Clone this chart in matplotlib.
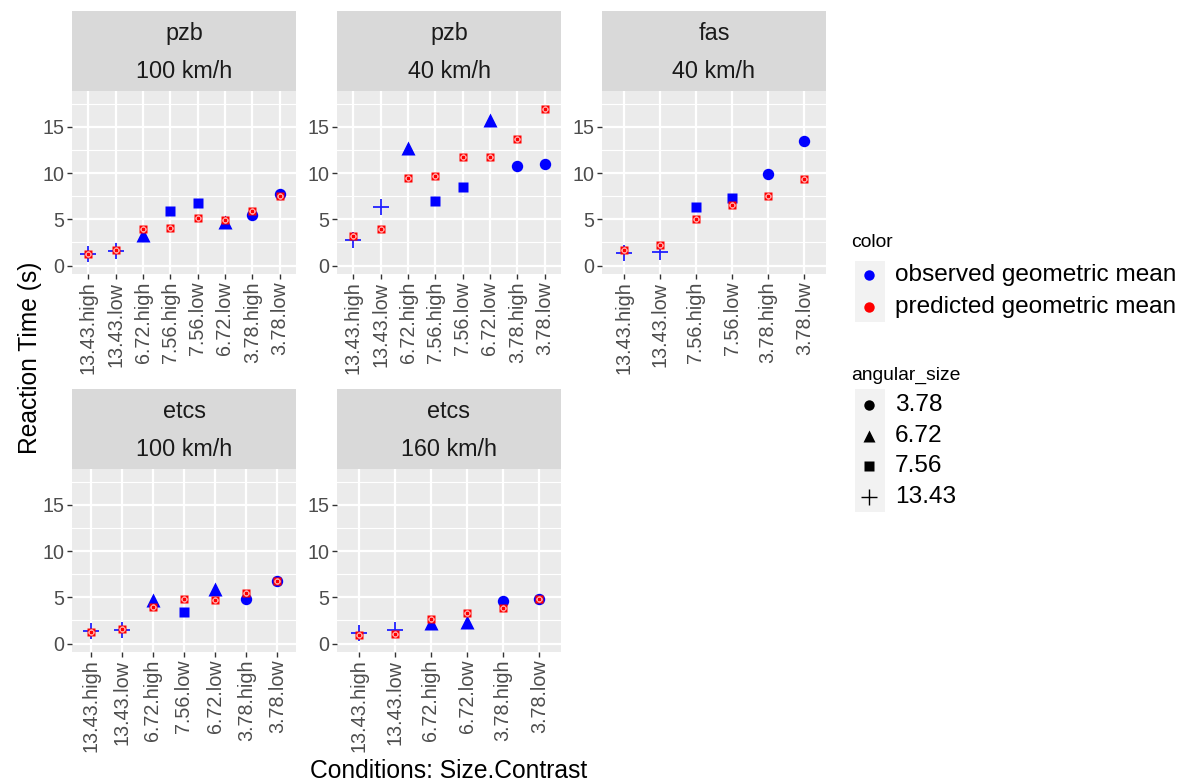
import matplotlib
matplotlib.use("Agg")
import matplotlib.pyplot as plt
from matplotlib.patches import Rectangle

plt.rcParams['font.family'] = ['Liberation Sans', 'DejaVu Sans']

# ---- data ----
pzb100_labels = ["13.43.high", "13.43.low", "6.72.high", "7.56.high", "7.56.low", "6.72.low", "3.78.high", "3.78.low"]
pzb100_obs = [1.26, 1.58, 3.3, 5.9, 6.76, 4.75, 5.5, 7.77]
pzb100_pred = [1.3, 1.65, 3.96, 4.06, 5.14, 4.89, 5.9, 7.52]

pzb40_labels = ["13.43.high", "13.43.low", "6.72.high", "7.56.high", "7.56.low", "6.72.low", "3.78.high", "3.78.low"]
pzb40_obs = [2.77, 6.37, 12.66, 6.94, 8.49, 15.76, 10.72, 11.0]
pzb40_pred = [3.24, 3.99, 9.46, 9.64, 11.73, 11.73, 13.7, 16.9]

fas40_labels = ["13.43.high", "13.43.low", "7.56.high", "7.56.low", "3.78.high", "3.78.low"]
fas40_obs = [1.33, 1.47, 6.37, 7.27, 9.9, 13.4]
fas40_pred = [1.73, 2.19, 5.04, 6.51, 7.55, 9.32]

etcs100_labels = ["13.43.high", "13.43.low", "6.72.high", "7.56.low", "6.72.low", "3.78.high", "3.78.low"]
etcs100_obs = [1.4, 1.51, 4.7, 3.42, 5.9, 4.82, 6.8]
etcs100_pred = [1.26, 1.62, 3.99, 4.82, 4.71, 5.5, 6.8]

etcs160_labels = ["13.43.high", "13.43.low", "6.72.high", "6.72.low", "3.78.high", "3.78.low"]
etcs160_obs = [1.15, 1.51, 2.2, 2.35, 4.6, 4.78]
etcs160_pred = [0.97, 1.08, 2.63, 3.31, 3.81, 4.82]

panels = [
    ("pzb", "100 km/h", pzb100_labels, pzb100_obs, pzb100_pred),
    ("pzb", "40 km/h", pzb40_labels, pzb40_obs, pzb40_pred),
    ("fas", "40 km/h", fas40_labels, fas40_obs, fas40_pred),
    ("etcs", "100 km/h", etcs100_labels, etcs100_obs, etcs100_pred),
    ("etcs", "160 km/h", etcs160_labels, etcs160_obs, etcs160_pred),
]

size_levels = ["3.78", "6.72", "7.56", "13.43"]
size_markers = {"3.78": ("o", 8.2), "6.72": ("^", 10), "7.56": ("s", 7.4), "13.43": ("+", 12)}

W, H = 1187, 784
fig = plt.figure(figsize=(W / 100, H / 100), dpi=100)


def px_axes(x0, y0, x1, y1):
    return fig.add_axes([x0 / W, 1 - y1 / H, (x1 - x0) / W, (y1 - y0) / H])


cols = [(72, 296), (337, 561), (602, 826)]
rows = [(11, 91, 274), (389, 469, 652)]

for i, (sys_name, speed, labels, obs, pred) in enumerate(panels):
    r, c = divmod(i, 3)
    x0, x1 = cols[c]
    s0, p0, p1 = rows[r]

    # strip
    sax = px_axes(x0, s0, x1, p0)
    sax.set_facecolor("#D9D9D9")
    sax.set_xticks([]); sax.set_yticks([])
    for sp in sax.spines.values():
        sp.set_visible(False)
    sax.text(0.5, 0.72, sys_name, ha="center", va="center", fontsize=16.8, color="#1A1A1A", transform=sax.transAxes)
    sax.text(0.5, 0.25, speed, ha="center", va="center", fontsize=16.8, color="#1A1A1A", transform=sax.transAxes)

    ax = px_axes(x0, p0, x1, p1)
    ax.set_facecolor("#EBEBEB")
    for sp in ax.spines.values():
        sp.set_visible(False)
    xs = list(range(1, len(labels) + 1))
    ax.set_xlim(0.4, len(labels) + 0.6)
    ax.set_ylim(-0.9, 18.85)
    ax.set_yticks([0, 5, 10, 15])
    ax.set_yticks([2.5, 7.5, 12.5, 17.5], minor=True)
    ax.set_xticks(xs)
    ax.set_xticklabels(labels, rotation=90, ha="center", va="top")
    ax.grid(True, which="major", color="white", linewidth=1.6)
    ax.grid(True, which="minor", axis="y", color="white", linewidth=0.8)
    ax.set_axisbelow(True)
    ax.tick_params(which="major", length=3.5, width=1, color="#333333", labelsize=14.2, labelcolor="#4D4D4D", pad=2)
    ax.tick_params(which="minor", length=0)

    # observed (blue) by angular size
    for x, lab, v in zip(xs, labels, obs):
        size = lab.rsplit(".", 1)[0]
        m, ms = size_markers[size]
        if m == "+":
            ax.plot(x, v, m, color="#2020FF", ms=ms, mew=1.3, zorder=3)
        else:
            ax.plot(x, v, m, color="blue", ms=ms, mec="none", zorder=3)
    # predicted (red)
    ax.plot(xs, pred, "s", color="red", ms=6.2, mec="none", linestyle="none", zorder=4)
    ax.plot(xs, pred, "o", mfc="none", mec="white", ms=3.6, mew=0.8, linestyle="none", zorder=5)
    ax.plot(xs, pred, "x", color="red", ms=2.4, mew=0.7, linestyle="none", zorder=6)

fig.text(30 / W, 1 - 358 / H, "Reaction Time (s)", rotation=90, ha="center", va="center", fontsize=17.7)
fig.text(449 / W, 1 - 771 / H, "Conditions: Size.Contrast", ha="center", va="center", fontsize=17.7)

# ---- legend ----
lax = fig.add_axes([0, 0, 1, 1])
lax.set_xlim(0, W); lax.set_ylim(H, 0)
lax.axis("off")
lax.text(851, 242, "color", fontsize=13.9, va="center", ha="left")
lax.add_patch(Rectangle((855, 261), 30, 61, facecolor="#F2F2F2", edgecolor="none"))
color_entries = [("blue", "observed geometric mean"), ("red", "predicted geometric mean")]
for k, (col, txt) in enumerate(color_entries):
    y = 275 + 32 * k
    lax.plot(869, y, "o", color=col, ms=7.5, mec="none")
    lax.text(895, y, txt, fontsize=17.6, va="center", ha="left")

lax.text(851, 375, "angular_size", fontsize=13.9, va="center", ha="left")
lax.add_patch(Rectangle((855, 389), 30, 123, facecolor="#F2F2F2", edgecolor="none"))
legend_sizes = {"3.78": 7.5, "6.72": 9, "7.56": 6.8, "13.43": 12}
for k, size in enumerate(size_levels):
    y = 405 + 30.7 * k
    m, _ = size_markers[size]
    if m == "+":
        lax.plot(869, y, m, color="black", ms=legend_sizes[size], mew=1.0)
    else:
        lax.plot(869, y, m, color="black", ms=legend_sizes[size], mec="none")
    lax.text(895, y, size, fontsize=17.6, va="center", ha="left")

fig.savefig("out.png", dpi=100, facecolor="white")
